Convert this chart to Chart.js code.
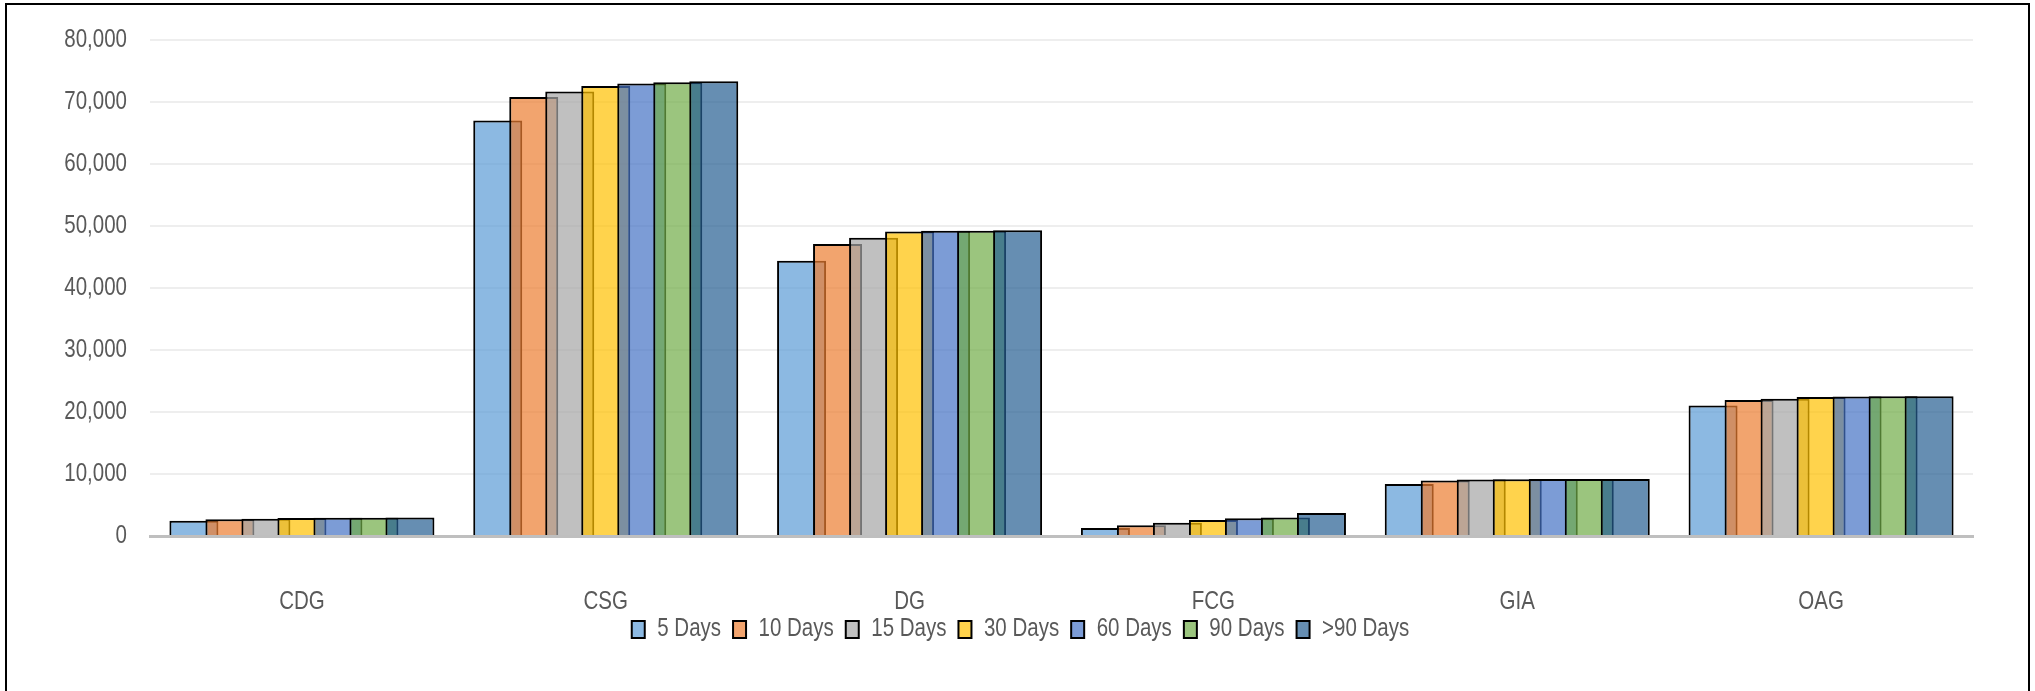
<!DOCTYPE html>
<html>
<head>
<meta charset="utf-8">
<script src="https://cdn.jsdelivr.net/npm/chart.js@4.4.1/dist/chart.umd.min.js"></script>
<style>
  html, body { margin: 0; padding: 0; background: #ffffff; overflow: hidden; }
  #wrap { position: absolute; left: 0; top: 0; width: 2035px; height: 691px; }
  #frame { position: absolute; left: 5px; top: 3px; width: 2021px; height: 800px;
           border: 2px solid #000; pointer-events: none; box-sizing: content-box; }
</style>
</head>
<body>
<div id="wrap"><canvas id="c" width="2035" height="691"></canvas></div>
<div id="frame"></div>
<script>
// ---- data ----
const categories = ["CDG", "CSG", "DG", "FCG", "GIA", "OAG"];
const seriesNames = ["5 Days", "10 Days", "15 Days", "30 Days", "60 Days", "90 Days", ">90 Days"];
const days5    = [2450, 67000, 44400, 1300, 8400, 21050];
const days10   = [2700, 70800, 47100, 1750, 8950, 21950];
const days15   = [2800, 71700, 48100, 2150, 9100, 22150];
const days30   = [2900, 72600, 49100, 2600, 9150, 22400];
const days60   = [2950, 73000, 49250, 2850, 9200, 22500];
const days90   = [2950, 73200, 49250, 3000, 9200, 22550];
const daysGt90 = [3000, 73350, 49300, 3700, 9200, 22550];
const yTicks = [0, 10000, 20000, 30000, 40000, 50000, 60000, 70000, 80000];

const seriesValues = [days5, days10, days15, days30, days60, days90, daysGt90];
const seriesColors = [
  "rgba(91,155,213,0.7)",
  "rgba(237,125,49,0.7)",
  "rgba(165,165,165,0.7)",
  "rgba(255,192,0,0.7)",
  "rgba(68,114,196,0.7)",
  "rgba(112,173,71,0.7)",
  "rgba(37,94,145,0.7)"
];

const FONT = "'Liberation Sans', Arial, sans-serif";
const TEXT = "#595959";
const NARROW = 0.82; // Arial Narrow is Arial at 82% width

// Make the canvas text narrow (like Arial Narrow) while keeping it real text.
const canvas = document.getElementById("c");
const ctx2d = canvas.getContext("2d");
const origFill = ctx2d.fillText.bind(ctx2d);
const origMeasure = ctx2d.measureText.bind(ctx2d);
ctx2d.fillText = function (t, x, y, mw) {
  const w = origMeasure(t).width * NARROW;
  const lim = (mw !== undefined && mw !== null) ? Math.min(mw, w) : w;
  return origFill(t, x, y, Math.max(lim, 0.01));
};
ctx2d.measureText = function (t) {
  const m = origMeasure(t);
  return {
    width: m.width * NARROW,
    actualBoundingBoxAscent: m.actualBoundingBoxAscent,
    actualBoundingBoxDescent: m.actualBoundingBoxDescent,
    actualBoundingBoxLeft: m.actualBoundingBoxLeft * NARROW,
    actualBoundingBoxRight: m.actualBoundingBoxRight * NARROW
  };
};

// Draw datasets first-to-last so later series overlap earlier ones.
const forwardDraw = {
  id: "forwardDraw",
  beforeDatasetsDraw(chart) {
    const n = chart.data.datasets.length;
    for (let i = 0; i < n; i++) {
      if (chart.isDatasetVisible(i)) chart.getDatasetMeta(i).controller.draw();
    }
    return false;
  }
};

// Place the legend: centred on the whole frame and tucked under the axis labels.
const legendPlace = {
  id: "legendPlace",
  afterLayout(chart) {
    const lg = chart.legend;
    if (!lg) return;
    const dx = 34, dy = -13;
    lg.left += dx; lg.right += dx;
    lg.top += dy; lg.bottom += dy;
  }
};

const datasets = seriesNames.map((name, i) => ({
  label: name,
  data: seriesValues[i],
  backgroundColor: seriesColors[i],
  borderColor: "#000000",
  borderWidth: 2,
  categoryPercentage: 0.8295,
  barPercentage: 1.361
}));

new Chart(canvas, {
  type: "bar",
  data: { labels: categories, datasets },
  plugins: [forwardDraw, legendPlace],
  options: {
    responsive: false,
    animation: false,
    devicePixelRatio: 1,
    layout: { padding: { left: 0, right: 62, top: 40, bottom: 26 } },
    plugins: {
      tooltip: { enabled: false },
      title: { display: false },
      legend: {
        position: "bottom",
        labels: {
          color: TEXT,
          font: { family: FONT, size: 25 },
          boxWidth: 13,
          boxHeight: 17,
          padding: 12
        }
      }
    },
    scales: {
      x: {
        grid: { display: false, drawTicks: false },
        border: { display: true, color: "#bfbfbf", width: 3 },
        ticks: { color: TEXT, font: { family: FONT, size: 25 }, padding: 51 },
        afterFit(scale) { scale.height = 82; }
      },
      y: {
        min: 0,
        max: 80000,
        afterBuildTicks(scale) { scale.ticks = yTicks.map(v => ({ value: v })); },
        grid: { color: "#eeeeee", lineWidth: 2, drawTicks: false },
        border: { display: false },
        ticks: {
          color: TEXT,
          font: { family: FONT, size: 25 },
          padding: 23,
          callback: v => Number(v).toLocaleString("en-US")
        },
        afterFit(scale) { scale.width = 150; }
      }
    }
  }
});
</script>
</body>
</html>
